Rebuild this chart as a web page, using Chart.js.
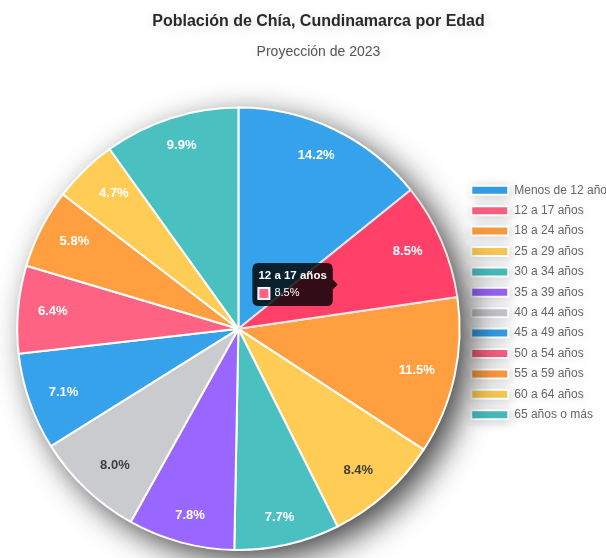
<!DOCTYPE html>
<html>
<head>
<meta charset="utf-8">
<script src="https://cdn.jsdelivr.net/npm/chart.js@4.4.1/dist/chart.umd.min.js"></script>
<style>
  html, body { margin: 0; padding: 0; background: #ffffff; overflow: hidden; }
  #wrap { position: absolute; left: 0; top: 0; width: 623px; height: 560px; }
</style>
</head>
<body>
<div id="wrap"><canvas id="c"></canvas></div>
<script>
// ---- data ----
const categories = ['Menos de 12 años', '12 a 17 años', '18 a 24 años', '25 a 29 años', '30 a 34 años', '35 a 39 años', '40 a 44 años', '45 a 49 años', '50 a 54 años', '55 a 59 años', '60 a 64 años', '65 años o más'];
const percentages = [14.2, 8.5, 11.5, 8.4, 7.7, 7.8, 8.0, 7.1, 6.4, 5.8, 4.7, 9.9];
const chartTitle = 'Población de Chía, Cundinamarca por Edad';
const chartSubtitle = 'Proyección de 2023';
const tooltipCategory = '12 a 17 años';

// ---- styles ----
const palette = ['#36A2EB', '#FF6384', '#FF9F40', '#FFCD56', '#4BC0C0', '#9966FF', '#C9CBCF'];
const sliceColors = categories.map((_, i) => palette[i % palette.length]);
const darkLabelCategories = ['25 a 29 años', '40 a 44 años'];
const FONT = '"Liberation Sans", Arial, Helvetica, sans-serif';
Chart.defaults.font.family = FONT;

const globalShadow = {
  id: 'globalShadow',
  beforeDraw(chart) {
    const ctx = chart.ctx;
    ctx.save();
    ctx.shadowColor = 'rgba(0,0,0,0.2)';
    ctx.shadowBlur = 12;
    ctx.shadowOffsetX = 2;
    ctx.shadowOffsetY = 2;
  },
  beforeDatasetsDraw(chart) {
    const ctx = chart.ctx;
    ctx.restore();
    const arc = chart.getDatasetMeta(0).data[0];
    if (!arc) return;
    ctx.save();
    ctx.shadowColor = 'rgba(0,0,0,0.75)';
    ctx.shadowBlur = 32;
    ctx.shadowOffsetX = 11;
    ctx.shadowOffsetY = 10;
    ctx.fillStyle = '#ffffff';
    ctx.beginPath();
    ctx.arc(arc.x, arc.y, arc.outerRadius, 0, Math.PI * 2);
    ctx.fill();
    ctx.restore();
  }
};

const legendShift = {
  id: 'legendShift',
  afterLayout(chart) {
    const lg = chart.legend;
    if (lg) { lg.top += 27; lg.bottom += 27; }
  }
};

const pctLabels = {
  id: 'pctLabels',
  afterDatasetsDraw(chart) {
    const ctx = chart.ctx;
    const meta = chart.getDatasetMeta(0);
    const size = 13, offset = 16, pad = 4;
    ctx.save();
    ctx.font = 'bold ' + size + 'px ' + FONT;
    ctx.textAlign = 'center';
    ctx.textBaseline = 'middle';
    meta.data.forEach((arc, i) => {
      const p = arc.getProps(['x', 'y', 'startAngle', 'endAngle', 'outerRadius'], true);
      const mid = (p.startAngle + p.endAngle) / 2;
      const ex = p.x + Math.cos(mid) * p.outerRadius;
      const ey = p.y + Math.sin(mid) * p.outerRadius;
      const vx = -Math.cos(mid), vy = -Math.sin(mid);
      const text = percentages[i].toFixed(1) + '%';
      const w = ctx.measureText(text).width + pad * 2;
      const h = size * 1.2 + pad * 2;
      const vs = 1 / Math.max(Math.abs(vx), Math.abs(vy));
      const px = ex + (w / 2) * vx * vs + offset * vx;
      const py = ey + (h / 2) * vy * vs + offset * vy;
      ctx.fillStyle = darkLabelCategories.includes(categories[i]) ? '#3d3d3d' : '#ffffff';
      ctx.fillText(text, px, py);
    });
    ctx.restore();
  }
};

const chart = new Chart(document.getElementById('c'), {
  type: 'pie',
  data: {
    labels: categories,
    datasets: [{
      data: percentages,
      backgroundColor: sliceColors,
      borderColor: '#ffffff',
      borderWidth: 2
    }]
  },
  options: {
    responsive: true,
    maintainAspectRatio: false,
    animation: false,
    devicePixelRatio: 1,
    events: [],
    layout: { padding: { left: 14, right: 0, top: 0, bottom: 9 } },
    plugins: {
      title: {
        display: true,
        text: chartTitle,
        color: '#2a2a2a',
        font: { size: 16, weight: 'bold' },
        padding: { top: 12, bottom: 6 }
      },
      subtitle: {
        display: true,
        text: chartSubtitle,
        color: '#555555',
        font: { size: 14, weight: 'normal' },
        padding: { top: 7, bottom: 45.6 }
      },
      legend: {
        position: 'right',
        labels: {
          color: '#666666',
          font: { size: 12 },
          boxWidth: 37,
          boxHeight: 9,
          padding: 8.4
        }
      },
      tooltip: {
        backgroundColor: 'rgba(0,0,0,0.8)',
        titleFont: { size: 11.5, weight: 'bold' },
        bodyFont: { size: 11 },
        titleMarginBottom: 4,
        callbacks: {
          label: (c) => ' ' + c.parsed.toFixed(1) + '%'
        }
      }
    }
  },
  plugins: [globalShadow, legendShift, pctLabels]
});

const activeIdx = categories.indexOf(tooltipCategory);
chart.setActiveElements([{ datasetIndex: 0, index: activeIdx }]);
chart.tooltip.setActiveElements([{ datasetIndex: 0, index: activeIdx }], { x: 0, y: 0 });
chart.update();
</script>
</body>
</html>
